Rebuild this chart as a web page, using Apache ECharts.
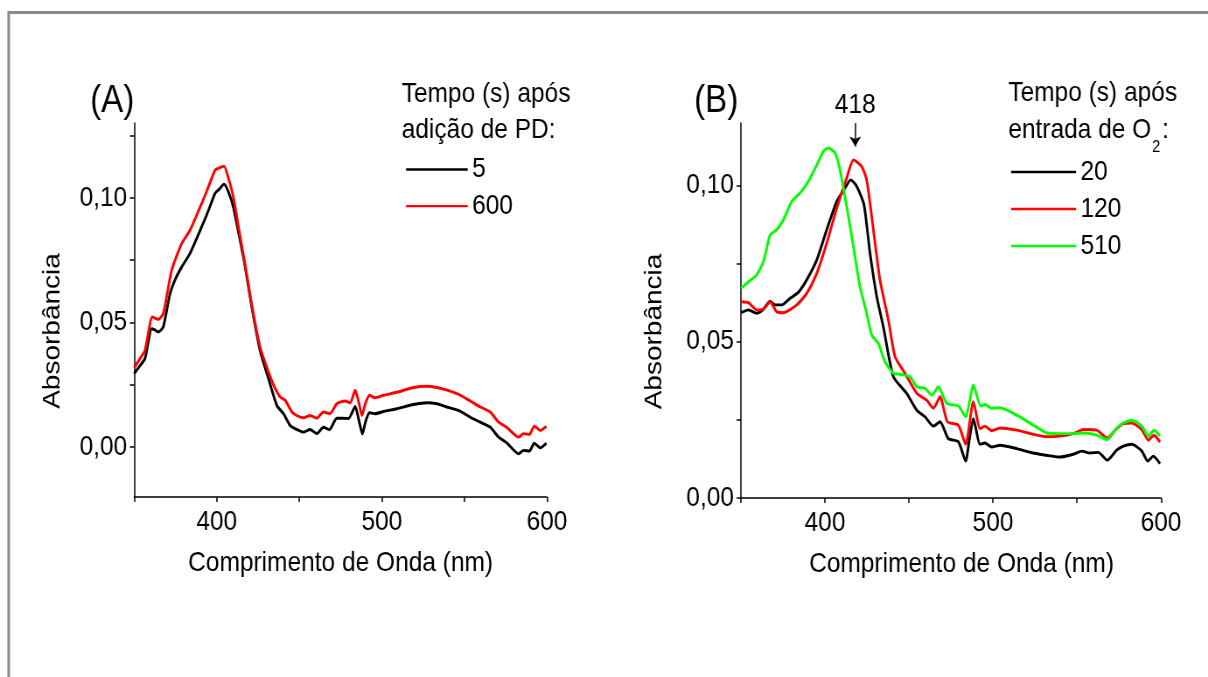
<!DOCTYPE html>
<html>
<head>
<meta charset="utf-8">
<title>Espectros de absorção</title>
<script src="https://cdn.jsdelivr.net/npm/echarts@6/dist/echarts.min.js"></script>
<style>
  html, body { margin: 0; padding: 0; background: #fff; overflow: hidden; }
  #wrap { width: 1208px; height: 677px; overflow: hidden; }
  /* the drawing is laid out on a wider canvas and narrowed horizontally,
     giving the condensed lettering of the original figure */
  #chart { width: 1381px; height: 677px; transform: scaleX(0.87473); transform-origin: 0 0; }
</style>
</head>
<body>
<div id="wrap"><div id="chart"></div></div>
<script>
// ---- Panel (A): spectra after addition of PD ----
const wlA5 = [350, 353, 356.5, 360.6, 362.5, 364.6, 367.6, 371.7, 375, 378.8, 383.8, 390.9, 395, 399, 401.5, 404.4, 407, 410, 413.5, 417.2, 421.2, 426.2, 431.3, 436.4, 440.4, 444.4, 448, 452.5, 456.5, 460.6, 464.6, 468.2, 472.7, 476, 479.8, 483.8, 486, 488.2, 490, 492.5, 495.9, 501, 509, 519.2, 527.3, 533.3, 538.4, 546.4, 553.5, 559.6, 565.6, 570.7, 575.8, 582.8, 585.8, 589.3, 592.3, 596, 599.6];
const absA5 = [0.0295, 0.0322, 0.0355, 0.0475, 0.0470, 0.0462, 0.0482, 0.0616, 0.0675, 0.0723, 0.0777, 0.0884, 0.0950, 0.1018, 0.1035, 0.1055, 0.1025, 0.0964, 0.0850, 0.0723, 0.0562, 0.0388, 0.0275, 0.0167, 0.0134, 0.0087, 0.0072, 0.0060, 0.0071, 0.0054, 0.0080, 0.0070, 0.0116, 0.0116, 0.0115, 0.0163, 0.0110, 0.0053, 0.0100, 0.0138, 0.0134, 0.0143, 0.0154, 0.0171, 0.0178, 0.0174, 0.0163, 0.0147, 0.0120, 0.0100, 0.0080, 0.0040, 0.0016, -0.0027, -0.0013, -0.0016, 0.0016, -0.0003, 0.0016];

const wlA600 = [350, 353, 356.5, 361, 364.6, 367.6, 372.7, 378.8, 383.8, 390.9, 395, 399, 401.5, 404.4, 407, 410, 413.5, 417.2, 421.2, 426.2, 431.3, 435, 438.4, 441.4, 445.5, 449, 452.5, 456.5, 460.6, 464.6, 468.5, 472.7, 477.8, 480.8, 483.8, 486, 487.9, 490, 492.5, 495.9, 501, 509, 519.2, 527.3, 533.3, 538.4, 546.4, 553.5, 559.6, 565.6, 570.7, 575.8, 582.8, 585.8, 589.3, 592.3, 596, 599.6];
const absA600 = [0.0318, 0.0350, 0.0388, 0.0522, 0.0512, 0.0536, 0.0710, 0.0817, 0.0870, 0.0978, 0.1045, 0.1111, 0.1120, 0.1127, 0.1080, 0.1004, 0.0870, 0.0730, 0.0570, 0.0402, 0.0301, 0.0240, 0.0201, 0.0188, 0.0141, 0.0125, 0.0118, 0.0127, 0.0116, 0.0141, 0.0134, 0.0174, 0.0185, 0.0177, 0.0228, 0.0180, 0.0127, 0.0175, 0.0208, 0.0198, 0.0208, 0.0220, 0.0239, 0.0244, 0.0239, 0.0231, 0.0212, 0.0185, 0.0161, 0.0141, 0.0100, 0.0078, 0.0040, 0.0054, 0.0051, 0.0084, 0.0067, 0.0083];

// ---- Panel (B): spectra after O2 admission ----
const wlB20 = [350, 354.4, 359.3, 363.3, 367.3, 370.2, 374.2, 379.2, 384.1, 389.1, 395.1, 401, 407, 411.9, 415.3, 418.9, 423.2, 426.8, 430.8, 434.7, 440.7, 448.6, 454.6, 459.5, 464.5, 468.5, 473.4, 479.4, 483.7, 486, 488.3, 492.3, 495.2, 499.2, 504.2, 514.1, 524, 533.9, 539.9, 547.8, 552.8, 557.7, 562.7, 568, 573.6, 577.6, 582.6, 588.5, 592.1, 595.4, 599.4];
const absB20 = [0.0593, 0.0602, 0.0591, 0.0604, 0.0630, 0.0618, 0.0618, 0.0639, 0.0658, 0.0698, 0.0762, 0.0858, 0.0949, 0.0992, 0.1018, 0.0997, 0.0938, 0.0783, 0.0644, 0.0548, 0.0388, 0.0335, 0.0281, 0.0260, 0.0230, 0.0244, 0.0190, 0.0180, 0.0118, 0.0190, 0.0254, 0.0172, 0.0176, 0.0163, 0.0169, 0.0158, 0.0144, 0.0135, 0.0131, 0.0140, 0.0150, 0.0144, 0.0146, 0.0121, 0.0153, 0.0166, 0.0172, 0.0151, 0.0118, 0.0134, 0.0110];

const wlB120 = [350, 354.4, 359.3, 363.3, 367.3, 371.2, 375.2, 383.2, 389.1, 395.1, 401, 407, 412.9, 416.9, 421.8, 424.8, 428.8, 432.7, 437.7, 441.7, 447.6, 454.6, 460.5, 464.5, 468.5, 472.8, 479.4, 483.7, 488.3, 492.3, 495.2, 499.2, 504.2, 514.1, 524, 532, 539.9, 547.8, 553.8, 561.7, 568, 573.6, 577.6, 582.6, 588.5, 592.5, 595.8, 599.4];
const absB120 = [0.0628, 0.0625, 0.0602, 0.0604, 0.0628, 0.0596, 0.0593, 0.0618, 0.0655, 0.0719, 0.0815, 0.0928, 0.1024, 0.1082, 0.1061, 0.1018, 0.0858, 0.0698, 0.0570, 0.0452, 0.0399, 0.0335, 0.0313, 0.0287, 0.0324, 0.0244, 0.0233, 0.0172, 0.0308, 0.0222, 0.0230, 0.0215, 0.0224, 0.0217, 0.0204, 0.0196, 0.0198, 0.0206, 0.0219, 0.0217, 0.0192, 0.0222, 0.0238, 0.0240, 0.0219, 0.0185, 0.0201, 0.0179];

const wlB510 = [350, 354.4, 359.3, 363.3, 367.3, 371.2, 375.2, 380.2, 385.1, 390.1, 395.1, 399, 402, 406, 408.9, 412.9, 416.9, 420.8, 424.8, 427.8, 431.7, 435.7, 440.7, 444.6, 450.6, 454.6, 459.5, 463.5, 467.5, 472.4, 479.4, 483.7, 488.3, 492.7, 495.2, 499.2, 504.2, 514.1, 524, 532, 539.9, 547.8, 553.8, 561.7, 568, 573.6, 577.6, 582.6, 588.5, 592.5, 595.8, 599.4];
const absB510 = [0.0671, 0.0692, 0.0714, 0.0756, 0.0842, 0.0858, 0.0890, 0.0949, 0.0976, 0.1013, 0.1066, 0.1109, 0.1120, 0.1104, 0.1050, 0.0933, 0.0804, 0.0676, 0.0591, 0.0521, 0.0495, 0.0436, 0.0399, 0.0396, 0.0388, 0.0356, 0.0351, 0.0329, 0.0356, 0.0303, 0.0294, 0.0260, 0.0361, 0.0294, 0.0299, 0.0287, 0.0289, 0.0265, 0.0233, 0.0208, 0.0206, 0.0206, 0.0208, 0.0201, 0.0187, 0.0224, 0.0240, 0.0249, 0.0230, 0.0198, 0.0217, 0.0199];

// ---- axis ticks and labels ----
const wlLabels = [400, 500, 600];
const absLabels = [0, 0.05, 0.1];
const absTicksA = [0, 0.025, 0.05, 0.075, 0.1, 0.125];
const absTicksB = [0, 0.025, 0.05, 0.075, 0.1];
const soretPeak = 418;

// ---- legend entries ----
const namesA = ['5', '600'];
const namesB = ['20', '120', '510'];

const FONT = 'Liberation Sans, Arial, Helvetica, sans-serif';
const SX = 1208 / 1381;            // horizontal narrowing applied by CSS
const cx = v => v / SX;             // page x -> canvas x

const pairs = (xs, ys) => xs.map((x, i) => [x, ys[i]]);
const commaFmt = v => v.toFixed(2).replace('.', ',');

const axisLine = { show: true, onZero: false, lineStyle: { color: '#000', width: 1.5 } };
const tickText = { fontSize: 28, color: '#000', fontFamily: FONT };

function xAxisFor(gridIndex, extraName) {
  return {
    gridIndex, type: 'value', min: 350, max: 600, interval: 50,
    axisLine,
    axisTick: { show: true, inside: false, length: 5, lineStyle: { color: '#000', width: 1.5 } },
    axisLabel: Object.assign({ customValues: wlLabels, margin: 11 }, tickText),
    splitLine: { show: false },
    name: 'Comprimento de Onda (nm)', nameLocation: 'middle', nameGap: 52,
    nameTextStyle: Object.assign({}, tickText, extraName || {})
  };
}
function yAxisFor(gridIndex, min, max, ticks, gap, pad) {
  return {
    gridIndex, type: 'value', min, max,
    axisLine,
    axisTick: { show: true, inside: false, length: 5, customValues: ticks, lineStyle: { color: '#000', width: 1.5 } },
    axisLabel: Object.assign({ customValues: absLabels, margin: 8, formatter: commaFmt }, tickText),
    splitLine: { show: false },
    name: 'Absorbância', nameLocation: 'middle', nameGap: gap, nameRotate: 90,
    nameTextStyle: Object.assign({ padding: pad }, tickText)
  };
}
function lineSeries(name, xi, xs, ys, color) {
  return {
    name, type: 'line', xAxisIndex: xi, yAxisIndex: xi,
    data: pairs(xs, ys), symbol: 'none', smooth: 0.2, clip: true,
    lineStyle: { color, width: 2.9 }, itemStyle: { color }
  };
}
function label(text, x, y, size) {
  return {
    type: 'text', x: cx(x), y,
    style: { text, fill: '#000', fontSize: size, fontFamily: FONT,
             align: 'left', verticalAlign: 'middle', textAlign: 'left', textVerticalAlign: 'middle' }
  };
}
function legendFor(names, x0, x1, top, gap) {
  return {
    data: names, orient: 'vertical', left: cx(x0), top, selectedMode: false,
    icon: 'rect', itemWidth: cx(x1) - cx(x0), itemHeight: 2.4, itemGap: gap,
    textStyle: tickText
  };
}

const chart = echarts.init(document.getElementById('chart'), null, { renderer: 'canvas' });

const red120 = lineSeries('120', 1, wlB120, absB120, '#ff0000');
red120.markLine = {
  silent: true, animation: false,
  symbol: ['none', 'arrow'], symbolSize: 10,
  lineStyle: { color: '#000', width: 1.5, type: 'solid' },
  label: { show: true, position: 'start', distance: 4, formatter: String(soretPeak),
           fontSize: 28, color: '#000', fontFamily: FONT },
  data: [[{ coord: [soretPeak, 0.12] }, { coord: [soretPeak, 0.1125] }]]
};

chart.setOption({
  animation: false,
  backgroundColor: '#fff',
  grid: [
    { left: cx(134.2), top: 123, width: cx(547) - cx(134.2), height: 374 },
    { left: cx(741), top: 123, width: cx(1161) - cx(741), height: 375 }
  ],
  xAxis: [xAxisFor(0), xAxisFor(1, { padding: [0, 0, 0, 24] })],
  yAxis: [
    yAxisFor(0, -0.02, 0.13, absTicksA, 79, [0, 42, 0, 0]),
    yAxisFor(1, 0, 0.12, absTicksB, 85, [0, 42, 0, 0])
  ],
  legend: [
    legendFor(namesA, 401.7, 463.3, 150.5, 8.6),
    legendFor(namesB, 1006.7, 1071.7, 153, 9.0)
  ],
  series: [
    lineSeries('5', 0, wlA5, absA5, '#000000'),
    lineSeries('600', 0, wlA600, absA600, '#ff0000'),
    lineSeries('20', 1, wlB20, absB20, '#000000'),
    red120,
    lineSeries('510', 1, wlB510, absB510, '#00ff00')
  ],
  graphic: [
    { type: 'rect', silent: true, shape: { x: cx(8.7), y: 12.5, width: 3000, height: 3000 },
      style: { fill: 'none', stroke: '#8a8a8a', lineWidth: 3 } },
    label('(A)', 90, 102, 38),
    label('(B)', 694, 102, 38),
    label('Tempo (s) após', 401.7, 94, 28),
    label('adição de PD:', 401.7, 130, 28),
    label('Tempo (s) após', 1008.3, 93, 28),
    label('entrada de O', 1008.3, 130, 28),
    label('2', 1152, 147, 17),
    label(':', 1162, 130, 28)
  ]
});
</script>
</body>
</html>
